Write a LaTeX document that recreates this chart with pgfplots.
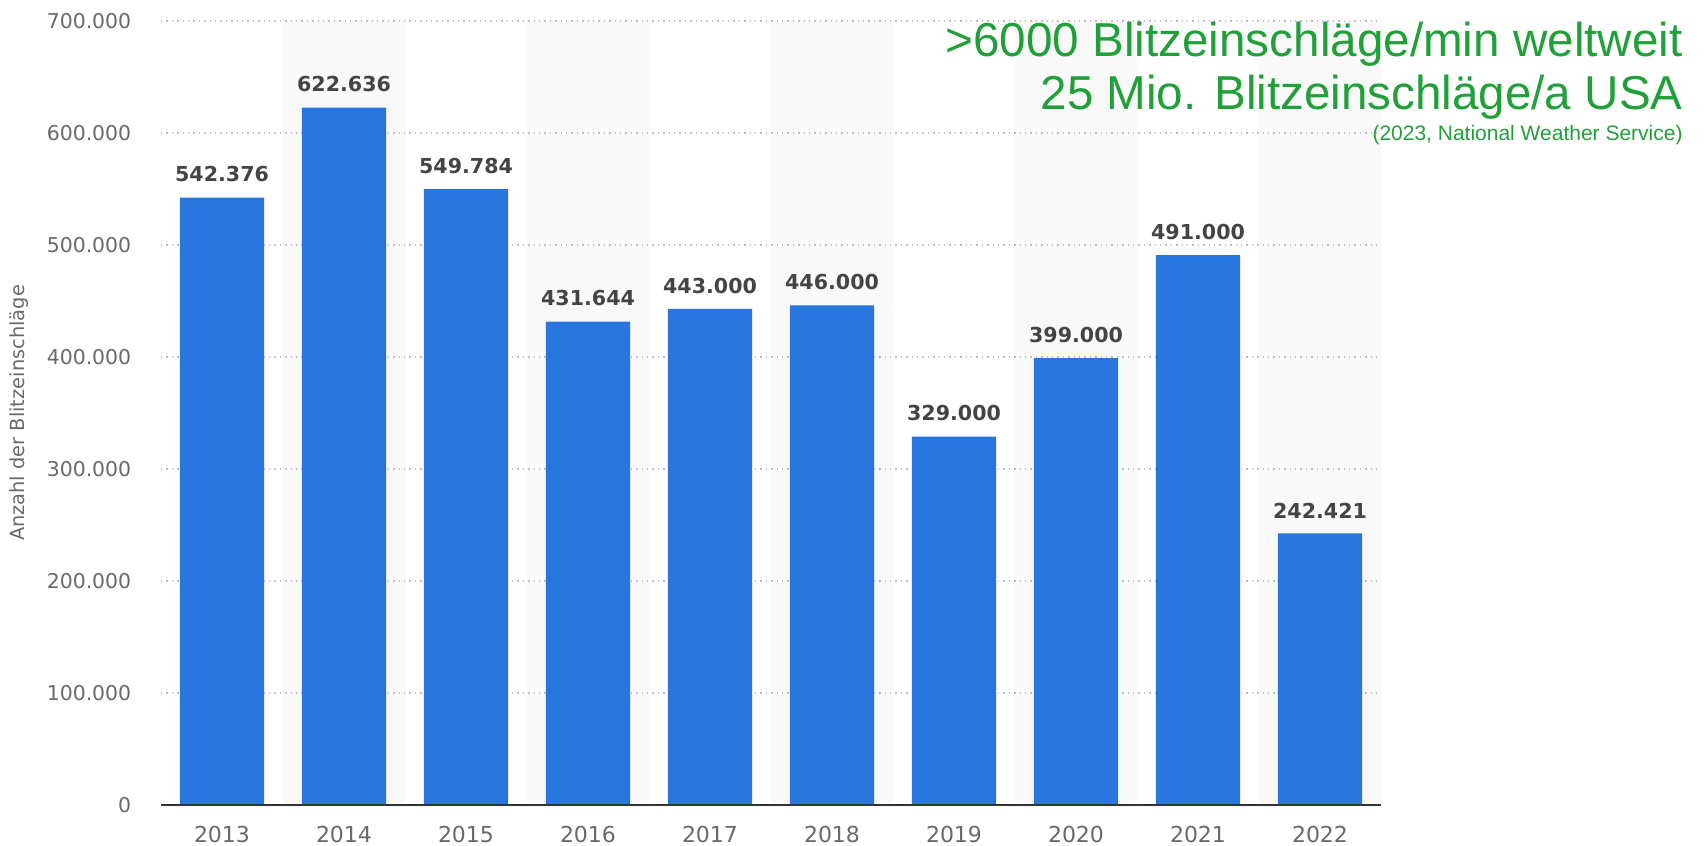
\documentclass[border=0pt]{standalone}
\usepackage{pgfplots}
\pgfplotsset{compat=1.18}
\usepackage{pgfplotstable}
\usepackage{fontspec}
\setmainfont{DejaVu Sans}
\newfontfamily\arialfont{Liberation Sans}
\definecolor{barblue}{RGB}{40,118,221}
\definecolor{bandgray}{RGB}{249,249,249}
\definecolor{gridgray}{RGB}{190,190,190}
\definecolor{ticklab}{RGB}{105,105,105}
\definecolor{vallab}{RGB}{68,68,68}
\definecolor{axisdark}{RGB}{50,50,50}
\definecolor{annot}{RGB}{33,160,58}

\pgfplotstableread{
x y label
0 542376 542.376
1 622636 622.636
2 549784 549.784
3 431644 431.644
4 443000 443.000
5 446000 446.000
6 329000 329.000
7 399000 399.000
8 491000 491.000
9 242421 242.421
}\datatable

\pgfplotstableread{
x y
1 700000
3 700000
5 700000
7 700000
9 700000
}\bandtable

\begin{document}
\begin{tikzpicture}
\useasboundingbox (-80.5pt,-20.5pt) rectangle (772pt,402.5pt);
\begin{axis}[
  at={(0,0)}, anchor=south west,
  scale only axis, width=610pt, height=392pt,
  xmin=-0.5, xmax=9.5, ymin=0, ymax=700000,
  axis on top,
  axis x line*=bottom, axis y line*=left,
  y axis line style={draw=none},
  x axis line style={draw=axisdark, line width=1pt},
  xtick={0,1,2,3,4,5,6,7,8,9},
  xticklabels={2013,2014,2015,2016,2017,2018,2019,2020,2021,2022},
  ytick={0,100000,200000,300000,400000,500000,600000,700000},
  yticklabels={0,100.000,200.000,300.000,400.000,500.000,600.000,700.000},
  major tick length=0pt,
  scaled y ticks=false,
  yticklabel style={font=\fontsize{10.2}{12}\selectfont, text=ticklab, inner sep=0pt, anchor=east, xshift=-14.7pt},
  xticklabel style={font=\fontsize{11}{13}\selectfont, text=ticklab, inner sep=0pt, anchor=north, yshift=-10.5pt},
  clip=false,
]
\addplot[ybar, bar width=1, bar shift=0pt, fill=bandgray, draw=none]
  table[x=x, y=y]{\bandtable};
\pgfplotsinvokeforeach{100000,200000,300000,400000,500000,600000,700000}{
  \addplot[gridgray, dotted, line width=0.7pt, forget plot] coordinates {(-0.5,#1) (9.5,#1)};
}
\addplot[ybar, bar width=0.69, bar shift=0pt, fill=barblue, draw=none,
  nodes near coords, point meta=explicit symbolic,
  nodes near coords style={font=\bfseries\fontsize{10.3}{12}\selectfont, text=vallab, anchor=south, inner sep=0pt, yshift=7.5pt}]
  table[x=x, y=y, meta=label]{\datatable};
\end{axis}
\node[anchor=base east, inner sep=0pt, text=annot, font=\arialfont\fontsize{23.8}{28}\selectfont] at (761pt,374.3pt) {>6000 Blitzeinschläge/min weltweit};
\node[anchor=base east, inner sep=0pt, text=annot, font=\arialfont\fontsize{23.8}{28}\selectfont] at (761pt,347.6pt) {25 Mio. Blitzeinschläge/a USA};
\node[anchor=base east, inner sep=0pt, text=annot, font=\arialfont\fontsize{10.5}{12}\selectfont] at (761pt,332.3pt) {(2023, National Weather Service)};
\node[rotate=90, inner sep=0pt, text=ticklab, font=\fontsize{9.7}{11}\selectfont] at (-70.7pt,196pt) {Anzahl der Blitzeinschläge};
\end{tikzpicture}
\end{document}
